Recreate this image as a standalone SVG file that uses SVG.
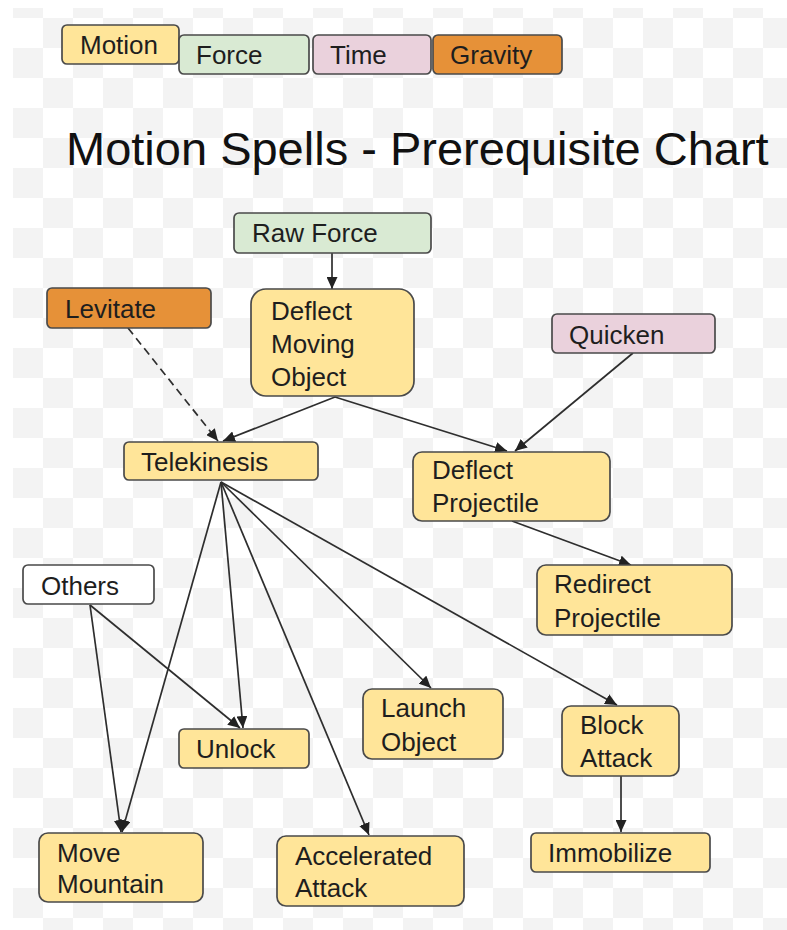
<svg xmlns="http://www.w3.org/2000/svg" width="787" height="930" viewBox="0 0 787 930">
<defs>
<pattern id="checker" patternUnits="userSpaceOnUse" x="13" y="18" width="60" height="60">
<rect x="0" y="0" width="60" height="60" fill="#ffffff"/>
<rect x="30" y="0" width="30" height="30" fill="#f3f3f3"/>
<rect x="0" y="30" width="30" height="30" fill="#f3f3f3"/>
</pattern>
<marker id="arr" markerUnits="userSpaceOnUse" markerWidth="13" markerHeight="11" refX="12" refY="5.5" orient="auto">
<path d="M0,0 L12,5.5 L0,11 z" fill="#222"/>
</marker>
<style>
.box{stroke:#4a4a4a;stroke-width:1.7}
.mo{fill:#ffe599}
.fo{fill:#d9ead3}
.ti{fill:#ead1dc}
.gr{fill:#e69138}
.ot{fill:#ffffff}
text{font-family:"Liberation Sans",Arial,sans-serif;font-size:26px;fill:#1e1e1e}
.title{font-size:47px;fill:#111}
.edge{stroke:#2e2e2e;stroke-width:1.7;fill:none;marker-end:url(#arr)}
.dash{stroke-dasharray:8,5}
</style>
</defs>
<rect x="0" y="0" width="787" height="930" fill="#ffffff"/>
<rect x="13" y="8" width="774" height="922" fill="url(#checker)"/>

<g id="legend">
<g id="legend-motion"><rect class="box mo" x="62" y="25" width="117" height="39" rx="5"/><text x="80" y="54">Motion</text></g>
<g id="legend-force"><rect class="box fo" x="179" y="35" width="130" height="39" rx="5"/><text x="196" y="64">Force</text></g>
<g id="legend-time"><rect class="box ti" x="313" y="35" width="118" height="39" rx="5"/><text x="330" y="64">Time</text></g>
<g id="legend-gravity"><rect class="box gr" x="433" y="35" width="129" height="39" rx="5"/><text x="450" y="64">Gravity</text></g>
</g>

<text class="title" x="66" y="165">Motion Spells - Prerequisite Chart</text>

<g id="connectors">
<line class="edge" x1="332" y1="253" x2="332" y2="289"/>
<line class="edge dash" x1="128" y1="328" x2="218" y2="441"/>
<line class="edge" x1="335" y1="397" x2="223" y2="441"/>
<line class="edge" x1="335" y1="397" x2="507" y2="451"/>
<line class="edge" x1="633" y1="353" x2="515" y2="451"/>
<line class="edge" x1="512" y1="521" x2="631" y2="565"/>
<line class="edge" x1="221" y1="482" x2="122" y2="832"/>
<line class="edge" x1="221" y1="482" x2="243" y2="728"/>
<line class="edge" x1="221" y1="482" x2="369" y2="835"/>
<line class="edge" x1="221" y1="482" x2="431" y2="688"/>
<line class="edge" x1="221" y1="482" x2="617" y2="705"/>
<line class="edge" x1="90" y1="605" x2="240" y2="728"/>
<line class="edge" x1="90" y1="605" x2="121" y2="832"/>
<line class="edge" x1="621" y1="776" x2="621" y2="832"/>
</g>

<g id="raw-force"><rect class="box fo" x="234" y="213" width="197" height="40" rx="5"/><text x="252" y="242">Raw Force</text></g>
<g id="deflect-moving-object"><rect class="box mo" x="251" y="289" width="163" height="107" rx="15"/><text x="271" y="320">Deflect</text><text x="271" y="353">Moving</text><text x="271" y="386">Object</text></g>
<g id="levitate"><rect class="box gr" x="47" y="288" width="164" height="40" rx="5"/><text x="65" y="318">Levitate</text></g>
<g id="quicken"><rect class="box ti" x="552" y="314" width="163" height="39" rx="5"/><text x="569" y="344">Quicken</text></g>
<g id="telekinesis"><rect class="box mo" x="124" y="442" width="194" height="38" rx="5"/><text x="141" y="471">Telekinesis</text></g>
<g id="deflect-projectile"><rect class="box mo" x="413" y="452" width="197" height="69" rx="9"/><text x="432" y="479">Deflect</text><text x="432" y="512">Projectile</text></g>
<g id="redirect-projectile"><rect class="box mo" x="537" y="565" width="195" height="70" rx="9"/><text x="554" y="593">Redirect</text><text x="554" y="627">Projectile</text></g>
<g id="others"><rect class="box ot" x="23" y="565" width="131" height="39" rx="5"/><text x="41" y="595">Others</text></g>
<g id="unlock"><rect class="box mo" x="179" y="729" width="130" height="39" rx="5"/><text x="196" y="758">Unlock</text></g>
<g id="launch-object"><rect class="box mo" x="363" y="689" width="140" height="70" rx="9"/><text x="381" y="717">Launch</text><text x="381" y="751">Object</text></g>
<g id="block-attack"><rect class="box mo" x="562" y="706" width="117" height="70" rx="9"/><text x="580" y="734">Block</text><text x="580" y="767">Attack</text></g>
<g id="immobilize"><rect class="box mo" x="531" y="833" width="179" height="39" rx="5"/><text x="548" y="862">Immobilize</text></g>
<g id="move-mountain"><rect class="box mo" x="39" y="833" width="164" height="69" rx="9"/><text x="57" y="862">Move</text><text x="57" y="893">Mountain</text></g>
<g id="accelerated-attack"><rect class="box mo" x="277" y="836" width="187" height="70" rx="9"/><text x="295" y="865">Accelerated</text><text x="295" y="897">Attack</text></g>
</svg>
